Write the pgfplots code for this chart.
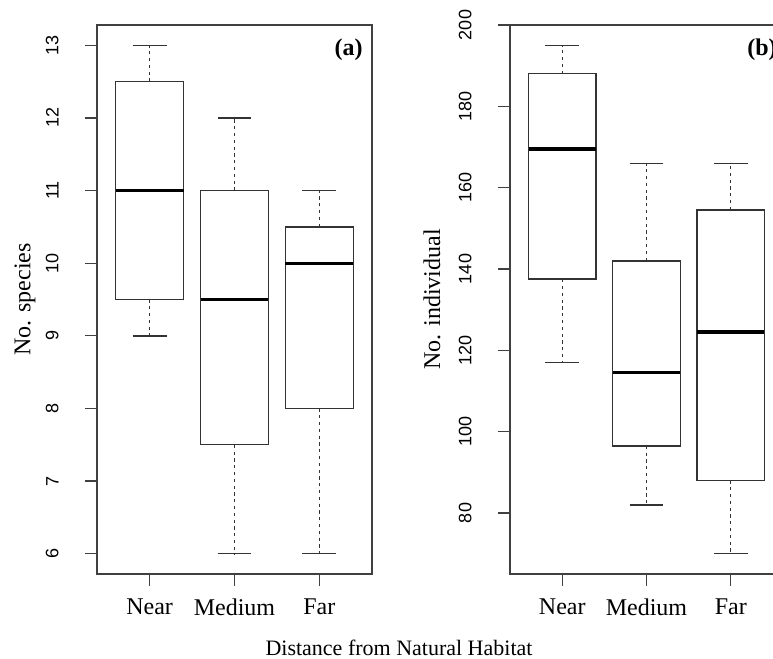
\documentclass[border=0pt]{standalone}
\usepackage{fontspec}
\setmainfont{Liberation Serif}
\newfontfamily\helv{Liberation Sans}
\usepackage{pgfplots}
\pgfplotsset{compat=1.18}
\usepgfplotslibrary{statistics}

% whiskers: dashed stem, solid cap (as in R)
\pgfplotsset{
  /pgfplots/boxplot/draw/lower whisker/.code={
    \draw[dash pattern=on 1.6pt off 1.8pt]
      (boxplot box cs:\pgfplotsboxplotvalue{lower quartile},0.5) --
      (boxplot box cs:\pgfplotsboxplotvalue{lower whisker},0.5);
    \draw (boxplot whisker cs:\pgfplotsboxplotvalue{lower whisker},0) --
      (boxplot whisker cs:\pgfplotsboxplotvalue{lower whisker},1);
  },
  /pgfplots/boxplot/draw/upper whisker/.code={
    \draw[dash pattern=on 1.6pt off 1.8pt]
      (boxplot box cs:\pgfplotsboxplotvalue{upper quartile},0.5) --
      (boxplot box cs:\pgfplotsboxplotvalue{upper whisker},0.5);
    \draw (boxplot whisker cs:\pgfplotsboxplotvalue{upper whisker},0) --
      (boxplot whisker cs:\pgfplotsboxplotvalue{upper whisker},1);
  },
  rpanel/.style={
    scale only axis, anchor=south west,
    height=274.5pt,
    xmin=0.38, xmax=3.62,
    xtick={1,2,3}, xticklabels={Near,Medium,Far},
    tick pos=left, tick align=outside, major tick length=6pt,
    axis line style={black!75, line width=0.7pt},
    major tick style={black!75, line width=0.6pt},
    xticklabel style={font=\fontsize{12}{14}\selectfont, inner sep=0pt, anchor=north},
    xticklabel shift=6pt,
    yticklabel style={font=\helv\fontsize{9}{10}\selectfont, rotate=90, anchor=south, inner sep=0pt},
    yticklabel shift=13pt,
    /pgf/number format/assume math mode=true,
    ylabel style={font=\fontsize{12}{14}\selectfont, anchor=center},
    clip=false,
    boxplot/draw direction=y,
    boxplot/every median/.style={black, line width=1.6pt},
  },
  rbox/.style={black!80, line width=0.7pt},
}

\begin{document}
\begin{tikzpicture}
\useasboundingbox (0,0) rectangle (386.5pt,329.5pt);
\clip (0,0) rectangle (386.5pt,329.5pt);

% (a) number of species
\begin{axis}[rpanel, at={(48.5pt,42.5pt)}, width=137.5pt,
  ymin=5.72, ymax=13.28, ytick={6,7,...,13},
  ylabel={No. species},
  ylabel style={at={(axis description cs:-0.262,0.5)}},
]
  \addplot[rbox, boxplot prepared={draw position=1, lower whisker=9, lower quartile=9.5,
    median=11, upper quartile=12.5, upper whisker=13, box extend=0.8, whisker extend=0.4}]
    coordinates {};
  \addplot[rbox, boxplot prepared={draw position=2, lower whisker=6, lower quartile=7.5,
    median=9.5, upper quartile=11, upper whisker=12, box extend=0.8, whisker extend=0.4}]
    coordinates {};
  \addplot[rbox, boxplot prepared={draw position=3, lower whisker=6, lower quartile=8,
    median=10, upper quartile=10.5, upper whisker=11, box extend=0.8, whisker extend=0.4}]
    coordinates {};
  \node[anchor=north east, inner sep=0pt, font=\bfseries\fontsize{12}{14}\selectfont]
    at (axis description cs:0.967,0.976) {(a)};
\end{axis}

% (b) number of individuals
\begin{axis}[rpanel, at={(255pt,42.5pt)}, width=136.5pt,
  ymin=65, ymax=200, ytick={80,100,...,200},
  ylabel={No. individual},
  ylabel style={at={(axis description cs:-0.286,0.5)}},
]
  \addplot[rbox, boxplot prepared={draw position=1, lower whisker=117, lower quartile=137.5,
    median=169.5, upper quartile=188, upper whisker=195, box extend=0.8, whisker extend=0.4}]
    coordinates {};
  \addplot[rbox, boxplot prepared={draw position=2, lower whisker=82, lower quartile=96.5,
    median=114.5, upper quartile=142, upper whisker=166, box extend=0.8, whisker extend=0.4}]
    coordinates {};
  \addplot[rbox, boxplot prepared={draw position=3, lower whisker=70, lower quartile=88,
    median=124.5, upper quartile=154.5, upper whisker=166, box extend=0.8, whisker extend=0.4}]
    coordinates {};
  \node[anchor=north west, inner sep=0pt, font=\bfseries\fontsize{12}{14}\selectfont]
    at (axis description cs:0.868,0.976) {(b)};
\end{axis}

\node[anchor=base, font=\fontsize{11}{13}\selectfont] at (199.5pt,1.5pt)
  {Distance from Natural Habitat};
\end{tikzpicture}
\end{document}
